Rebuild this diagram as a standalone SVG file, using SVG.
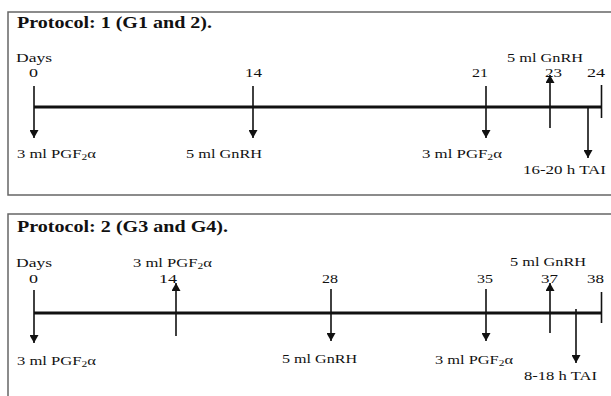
<svg xmlns="http://www.w3.org/2000/svg" width="611" height="396" viewBox="0 0 611 396">
<defs>
<marker id="ah" markerUnits="userSpaceOnUse" markerWidth="9" markerHeight="9" refX="8" refY="4.5" orient="auto">
<path d="M0,0 L8,4.5 L0,9 z" fill="#111"/>
</marker>
<style>
.frame{fill:none;stroke:#666;stroke-width:1.5}
.tl{stroke:#111;stroke-width:3;fill:none}
.ar{stroke:#111;stroke-width:1.6;fill:none;marker-end:url(#ah)}
.tk{stroke:#111;stroke-width:1.6;fill:none}
text{font-family:"Liberation Serif","Times New Roman",serif;fill:#111;font-size:13px}
.ttl{font-weight:bold;font-size:16.5px}
.n{font-size:13.5px}
.sub{font-size:9px}
</style>
</defs>
<rect width="611" height="396" fill="#fff"/>

<g id="panel1">
<path class="frame" d="M612,12 H8 V195 H612"/>
<text class="ttl" x="17" y="28" textLength="195" lengthAdjust="spacingAndGlyphs">Protocol: 1 (G1 and 2).</text>
<text x="16" y="62" textLength="36" lengthAdjust="spacingAndGlyphs">Days</text>
</g>

<g id="p1-day0">
<text class="n" x="29" y="77" textLength="9" lengthAdjust="spacingAndGlyphs">0</text>
<text x="17" y="158" textLength="79" lengthAdjust="spacingAndGlyphs">3 ml PGF<tspan class="sub" dy="2">2</tspan><tspan dy="-2">α</tspan></text>
</g>
<g id="p1-day14">
<text class="n" x="245" y="77" textLength="17" lengthAdjust="spacingAndGlyphs">14</text>
<text x="186" y="158" textLength="76" lengthAdjust="spacingAndGlyphs">5 ml GnRH</text>
</g>
<g id="p1-day21">
<text class="n" x="472" y="77" textLength="16" lengthAdjust="spacingAndGlyphs">21</text>
<text x="422" y="158" textLength="80" lengthAdjust="spacingAndGlyphs">3 ml PGF<tspan class="sub" dy="2">2</tspan><tspan dy="-2">α</tspan></text>
</g>
<g id="p1-day23">
<text class="n" x="545" y="77" textLength="17" lengthAdjust="spacingAndGlyphs">23</text>
<text x="507" y="62" textLength="76" lengthAdjust="spacingAndGlyphs">5 ml GnRH</text>
</g>
<g id="p1-day24">
<text class="n" x="587" y="77" textLength="18" lengthAdjust="spacingAndGlyphs">24</text>
<text x="523" y="174" textLength="83" lengthAdjust="spacingAndGlyphs">16-20 h TAI</text>
</g>

<g id="panel2">
<path class="frame" d="M612,214 H8 V400"/>
<text class="ttl" x="17" y="232" textLength="211" lengthAdjust="spacingAndGlyphs">Protocol: 2 (G3 and G4).</text>
<text x="16" y="267" textLength="36" lengthAdjust="spacingAndGlyphs">Days</text>
</g>

<g id="p2-day0">
<text class="n" x="29" y="283" textLength="9" lengthAdjust="spacingAndGlyphs">0</text>
<text x="17" y="365" textLength="79" lengthAdjust="spacingAndGlyphs">3 ml PGF<tspan class="sub" dy="2">2</tspan><tspan dy="-2">α</tspan></text>
</g>
<g id="p2-day14">
<text class="n" x="159" y="283" textLength="18" lengthAdjust="spacingAndGlyphs">14</text>
<text x="133" y="267" textLength="79" lengthAdjust="spacingAndGlyphs">3 ml PGF<tspan class="sub" dy="2">2</tspan><tspan dy="-2">α</tspan></text>
</g>
<g id="p2-day28">
<text class="n" x="322" y="283" textLength="16" lengthAdjust="spacingAndGlyphs">28</text>
<text x="282" y="363" textLength="75" lengthAdjust="spacingAndGlyphs">5 ml GnRH</text>
</g>
<g id="p2-day35">
<text class="n" x="477" y="283" textLength="16" lengthAdjust="spacingAndGlyphs">35</text>
<text x="435" y="364" textLength="78" lengthAdjust="spacingAndGlyphs">3 ml PGF<tspan class="sub" dy="2">2</tspan><tspan dy="-2">α</tspan></text>
</g>
<g id="p2-day37">
<text class="n" x="541" y="283" textLength="17" lengthAdjust="spacingAndGlyphs">37</text>
<text x="510" y="266" textLength="76" lengthAdjust="spacingAndGlyphs">5 ml GnRH</text>
</g>
<g id="p2-day38">
<text class="n" x="587" y="283" textLength="17" lengthAdjust="spacingAndGlyphs">38</text>
<text x="524" y="380" textLength="73" lengthAdjust="spacingAndGlyphs">8-18 h TAI</text>
</g>

<g id="connectors">
<line class="tl" x1="34" y1="107" x2="601" y2="107"/>
<line class="ar" x1="34" y1="86" x2="34" y2="138"/>
<line class="ar" x1="253" y1="86" x2="253" y2="138"/>
<line class="ar" x1="486" y1="86" x2="486" y2="138"/>
<line class="ar" x1="550" y1="128" x2="550" y2="75"/>
<line class="tk" x1="601.5" y1="85" x2="601.5" y2="118"/>
<line class="ar" x1="588" y1="107" x2="588" y2="158"/>

<line class="tl" x1="34" y1="313" x2="601" y2="313"/>
<line class="ar" x1="34" y1="290" x2="34" y2="343"/>
<line class="ar" x1="176" y1="336" x2="176" y2="283"/>
<line class="ar" x1="331" y1="289" x2="331" y2="341"/>
<line class="ar" x1="486" y1="289" x2="486" y2="341"/>
<line class="ar" x1="550" y1="333" x2="550" y2="283"/>
<line class="tk" x1="601.5" y1="292" x2="601.5" y2="323"/>
<line class="ar" x1="576" y1="309" x2="576" y2="363"/>
</g>
</svg>
